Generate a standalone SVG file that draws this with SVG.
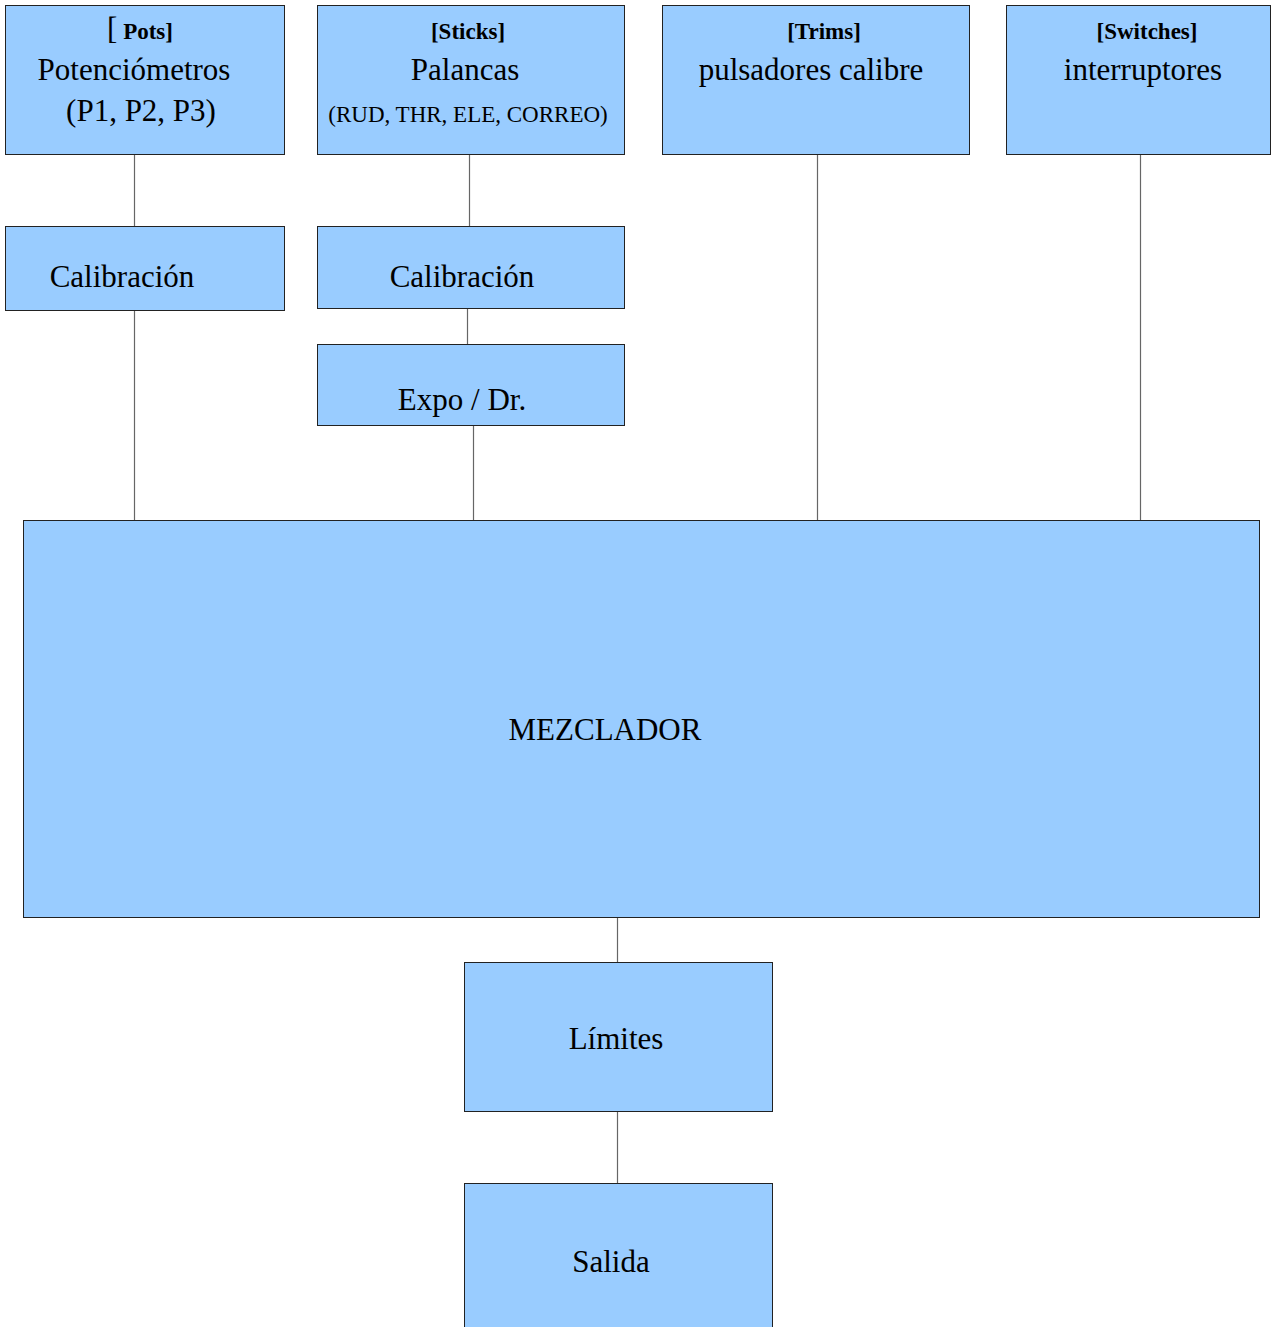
<svg xmlns="http://www.w3.org/2000/svg" width="1271" height="1327" viewBox="0 0 1271 1327">
<style>
.box{fill:#99ccff;stroke:#222;stroke-width:1}
.t{font-family:"Liberation Serif","Times New Roman",serif;font-size:31px;fill:#000;text-anchor:middle}
.h{font-family:"Liberation Serif","Times New Roman",serif;font-size:23px;font-weight:bold;fill:#000;text-anchor:middle}
.s{font-family:"Liberation Serif","Times New Roman",serif;font-size:23px;fill:#000;text-anchor:middle}
.c{stroke:#666;stroke-width:1.2;fill:none}
</style>
<rect width="1271" height="1327" fill="#fff"/>
<g id="connectors">
<line class="c" x1="134.5" y1="154" x2="134.5" y2="226"/>
<line class="c" x1="134.5" y1="310" x2="134.5" y2="520"/>
<line class="c" x1="469.5" y1="154" x2="469.5" y2="226"/>
<line class="c" x1="467.5" y1="308" x2="467.5" y2="344"/>
<line class="c" x1="473.5" y1="425" x2="473.5" y2="520"/>
<line class="c" x1="817.5" y1="154" x2="817.5" y2="520"/>
<line class="c" x1="1140.5" y1="154" x2="1140.5" y2="520"/>
<line class="c" x1="617.5" y1="917" x2="617.5" y2="962"/>
<line class="c" x1="617.5" y1="1111" x2="617.5" y2="1183"/>
</g>
<g id="pots">
<rect class="box" x="5.5" y="5.5" width="279" height="149"/>
<text x="140" y="39" class="h"><tspan font-weight="normal" font-size="31">[</tspan> Pots]</text>
<text x="134" y="80" class="t">Potenciómetros</text>
<text x="141" y="121" class="t">(P1, P2, P3)</text>
</g>
<g id="sticks">
<rect class="box" x="317.5" y="5.5" width="307" height="149"/>
<text x="468" y="39" class="h">[Sticks]</text>
<text x="465" y="80" class="t">Palancas</text>
<text x="468" y="122" class="s">(RUD, THR, ELE, CORREO)</text>
</g>
<g id="trims">
<rect class="box" x="662.5" y="5.5" width="307" height="149"/>
<text x="824" y="39" class="h">[Trims]</text>
<text x="811" y="80" class="t">pulsadores calibre</text>
</g>
<g id="switches">
<rect class="box" x="1006.5" y="5.5" width="264" height="149"/>
<text x="1147" y="39" class="h">[Switches]</text>
<text x="1143" y="80" class="t">interruptores</text>
</g>
<g id="cal1">
<rect class="box" x="5.5" y="226.5" width="279" height="84"/>
<text x="122" y="287" class="t">Calibración</text>
</g>
<g id="cal2">
<rect class="box" x="317.5" y="226.5" width="307" height="82"/>
<text x="462" y="287" class="t">Calibración</text>
</g>
<g id="expo">
<rect class="box" x="317.5" y="344.5" width="307" height="81"/>
<text x="462" y="410" class="t">Expo / Dr.</text>
</g>
<g id="mezclador">
<rect class="box" x="23.5" y="520.5" width="1236" height="397"/>
<text x="605" y="740" class="t">MEZCLADOR</text>
</g>
<g id="limites">
<rect class="box" x="464.5" y="962.5" width="308" height="149"/>
<text x="616" y="1049" class="t">Límites</text>
</g>
<g id="salida">
<rect class="box" x="464.5" y="1183.5" width="308" height="150"/>
<text x="611" y="1272" class="t">Salida</text>
</g>
</svg>
